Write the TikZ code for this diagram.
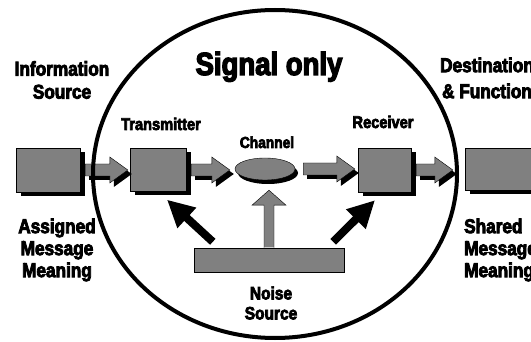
\documentclass[tikz,border=0pt]{standalone}
\usepackage{fontspec}
\newfontfamily\heavyfont{Liberation Sans}[FakeStretch=0.86,BoldFeatures={FakeStretch=0.86,FakeBold=4}]
\usetikzlibrary{calc,shapes.geometric,arrows.meta}

% block arrow from the east side of #1 to the west side of #2
% #3 = gap after the tail, #4 = gap before the tip
\newcommand{\fatarrow}[4]{%
  \coordinate (ta) at ($(#1.east)+(#3pt,0pt)$);
  \coordinate (tp) at ($(#2.west |- #1.east)+(-#4pt,0pt)$);
  \coordinate (hb) at ($(tp)+(-18pt,0pt)$);
  \foreach \opt in {arrowshadow,arrowbody}
    \path[\opt] ($(ta)+(0pt,6pt)$) -- ($(hb)+(0pt,6pt)$) -- ($(hb)+(0pt,13pt)$)
      -- (tp) -- ($(hb)+(0pt,-13pt)$) -- ($(hb)+(0pt,-6pt)$) -- ($(ta)+(0pt,-6pt)$) -- cycle;
}
% grey box with a black shadow: name, x, y, width, height
\newcommand{\shadowrect}[5]{%
  \fill[black] ({#2+5-#4/2},{#3+4-#5/2}) rectangle ({#2+5+#4/2},{#3+4+#5/2});
  \node[blk,minimum width=#4pt,minimum height=#5pt] (#1) at (#2,#3) {};
}
% grey oval with a black shadow: name, x, y, width, height
\newcommand{\shadowoval}[5]{%
  \fill[black] ({#2+3},{#3+4}) ellipse [x radius={#4/2},y radius={#5/2}];
  \node[blk,ellipse,minimum width=#4pt,minimum height=#5pt] (#1) at (#2,#3) {};
}

\begin{document}
\begin{tikzpicture}[x=1pt,y=-1pt,
    blk/.style={draw=black,thin,fill=gray,inner sep=0pt},
    arrowshadow/.style={fill=black,transform canvas={shift={(4pt,-4pt)}}},
    arrowbody/.style={fill=gray,draw=black,thin},
    noisearrow/.style={line width=8pt,-{Triangle[width=26pt,length=27pt]}},
    lbl/.style 2 args={inner sep=0pt,align=center,font=\heavyfont\bfseries\fontsize{#1}{#2}\selectfont}]
  \useasboundingbox (0,0) rectangle (531,342);

  % blocks
  \shadowrect{src}{48}{170}{64}{44}
  \shadowrect{trans}{158}{170}{56}{43}
  \shadowoval{chan}{265}{169}{60}{22}
  \shadowrect{rec}{384.5}{170}{53}{44}
  \shadowrect{dest}{505}{169}{80}{42}

  % block arrows
  \fatarrow{src}{trans}{5}{2}
  \fatarrow{trans}{chan}{5}{5}
  \fatarrow{chan}{rec}{8}{3}
  \fatarrow{rec}{dest}{5}{12}

  % noise source
  \node[draw=black,thin,fill=gray,minimum width=150pt,minimum height=24pt] (noise) at (269,260) {};
  \coordinate (ntip) at ($(noise.north |- chan.south)+(0pt,-10pt)$);
  \coordinate (nhb) at ($(ntip)+(0pt,-15pt)$);
  \fill[gray] ($(noise.north)+(-5pt,0.5pt)$) -- ($(nhb)+(-5pt,0pt)$) -- ($(nhb)+(-17pt,0pt)$) -- (ntip)
    -- ($(nhb)+(17pt,0pt)$) -- ($(nhb)+(5pt,0pt)$) -- ($(noise.north)+(5pt,0.5pt)$) -- cycle;
  \draw[thin] ($(noise.north)+(-5pt,0pt)$) -- ($(nhb)+(-5pt,0pt)$) -- ($(nhb)+(-17pt,0pt)$) -- (ntip)
    -- ($(nhb)+(17pt,0pt)$) -- ($(nhb)+(5pt,0pt)$) -- ($(noise.north)+(5pt,0pt)$);

  \coordinate (nl) at ($(noise.north west)+(19pt,6pt)$);
  \coordinate (nr) at ($(noise.north east)+(-11pt,6pt)$);
  \coordinate (tl) at ($(trans.south)+(9pt,-8pt)$);
  \coordinate (tr) at ($(rec.south)+(-9.5pt,-8pt)$);
  \draw[noisearrow] (nl) -- (tl);
  \draw[noisearrow] (nr) -- (tr);

  % the signal boundary
  \draw[line width=4pt] (275,174) ellipse [x radius=182,y radius=164];

  % labels
  \node[lbl={32}{37},anchor=base] (sig) at (269,75) {Signal only};
  \node[lbl={20}{23}] (srclbl) at (62,80) {Information\\Source};
  \node[lbl={20}{26}] (destlbl) at (487,78) {Destination\\\&\ Function};
  \node[lbl={17}{20},anchor=base] (translbl) at (161,130) {Transmitter};
  \node[lbl={16}{19},anchor=base] (chanlbl) at (267,148) {Channel};
  \node[lbl={17}{20},anchor=base] (reclbl) at (383,128) {Receiver};
  \node[lbl={20}{22}] (assign) at (57,250) {Assigned\\Message\\Meaning};
  \node[lbl={20}{22},align=left,anchor=west] (shared) at (464,250) {Shared\\Message\\Meaning};
  \node[lbl={18}{20}] (noiselbl) at (271,303) {Noise\\Source};
\end{tikzpicture}
\end{document}
